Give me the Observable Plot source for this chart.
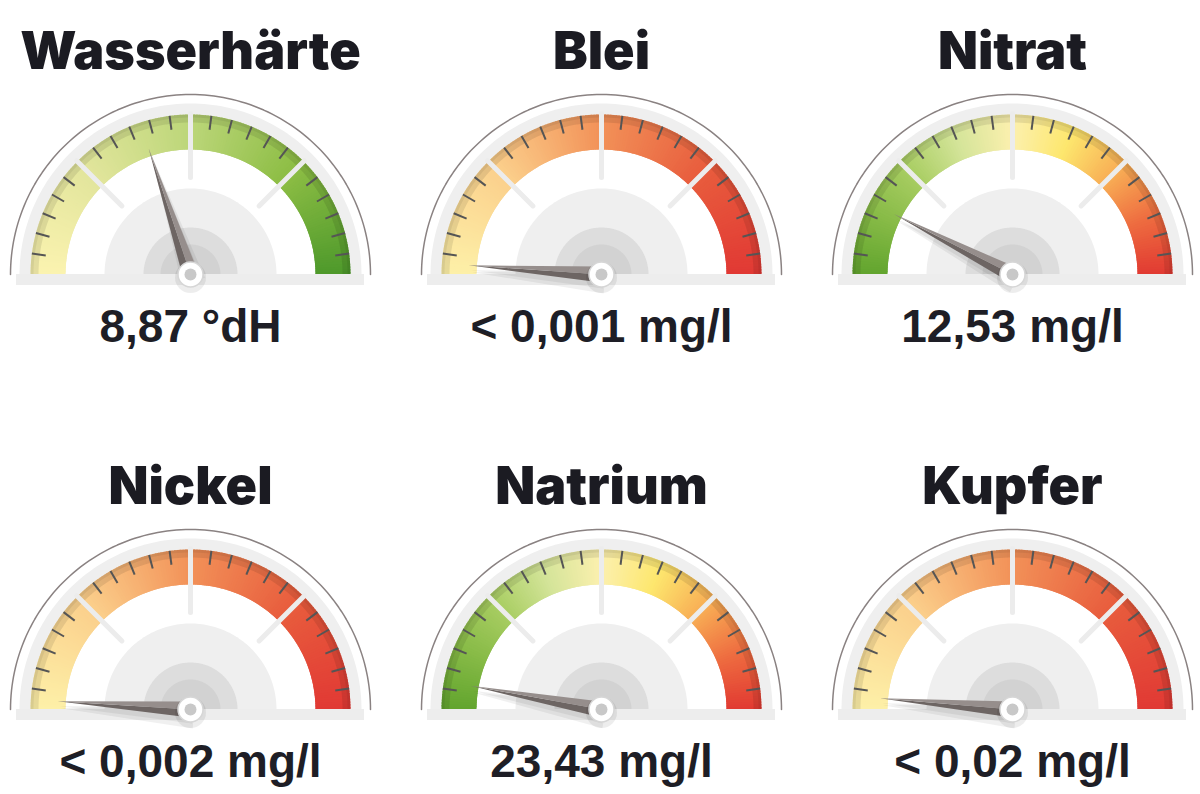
<!DOCTYPE html>
<html><head><meta charset="utf-8">
<script src="https://cdn.jsdelivr.net/npm/d3@7"></script>
<script src="https://cdn.jsdelivr.net/npm/@observablehq/plot@0.6"></script>
<style>
body{margin:0;background:#fff;}
#chart{width:1200px;height:794px;}
g[aria-label="title"] text{letter-spacing:-1px;}
</style>
</head><body><div id="chart"></div>
<script>
// ---- data ----
const titles = ["Wasserhärte", "Blei", "Nitrat", "Nickel", "Natrium", "Kupfer"];
const valueLabels = ["8,87 °dH", "< 0,001 mg/l", "12,53 mg/l", "< 0,002 mg/l", "23,43 mg/l", "< 0,02 mg/l"];
// needle position as share of the dial (0 = left end, 1 = right end)
const needleShares = [0.398, 0.022, 0.15, 0.02, 0.057, 0.027];
const gaugeSchemes = ["hardness", "metal", "nutrient", "metal", "nutrient", "metal"];
const hardnessColors = ["#fbf3b0", "#e2e59c", "#bcd679", "#8cbd44", "#4e992b"];
const metalColors = ["#fdf0a8", "#fbd08c", "#f29158", "#e85c3d", "#e13934"];
const nutrientColors = ["#62a52e", "#86ba46", "#a8cd62", "#d4e499", "#fcf0ae", "#fde76e", "#f8ae55", "#ee6c40", "#e13a32"];
const segments = 4, ticksPerSegment = 5;

// ---- layout ----
const W = 1200, H = 794;
const colX = [190, 601, 1012], rowY = [274, 709];
const R = {arc: 180, bg: 171, bandOut: 160, bandIn: 125, tickIn: 146, sepIn: 97,
  plate: 86, mid: 47, core: 30, hub: 12.5, hubDot: 6, needle: 133, needleHalf: 8};
const schemeColors = {hardness: hardnessColors, metal: metalColors, nutrient: nutrientColors};

const gauges = titles.map((t, i) => {
  const cols = schemeColors[gaugeSchemes[i]];
  const color = d3.scaleLinear().domain(cols.map((_, k) => k / (cols.length - 1))).range(cols).interpolate(d3.interpolateRgb);
  return {i, title: t, label: valueLabels[i], share: needleShares[i], cx: colX[i % 3], cy: rowY[Math.floor(i / 3)], color};
});
const pt = (g, s, r) => { const a = Math.PI * (1 - s); return [g.cx + r * Math.cos(a), g.cy - r * Math.sin(a)]; };

function semis(r) {
  const out = [];
  for (const g of gauges) for (let k = 0; k <= 120; k++) { const [x, y] = pt(g, k / 120, r); out.push({z: g.i, x, y}); }
  return out;
}
// band pieces
const band = [];
const N = 180, rMid = (R.bandOut + R.bandIn) / 2;
for (const g of gauges) for (let k = 0; k < N; k++) {
  const s1 = k / N, s2 = Math.min(1, (k + 1.7) / N);
  const [x1, y1] = pt(g, s1, rMid), [x2, y2] = pt(g, s2, rMid);
  band.push({x1, y1, x2, y2, c: g.color((k + 0.5) / N)});
}
const seps = [], ticks = [];
for (const g of gauges) {
  for (let s = 1; s < segments; s++) {
    const [x1, y1] = pt(g, s / segments, R.bandOut + 1), [x2, y2] = pt(g, s / segments, R.sepIn);
    seps.push({x1, y1, x2, y2});
  }
  const n = segments * (ticksPerSegment + 1);
  for (let k = 1; k < n; k++) {
    if (k % (ticksPerSegment + 1) === 0) continue;
    const [x1, y1] = pt(g, k / n, R.bandOut), [x2, y2] = pt(g, k / n, R.tickIn);
    ticks.push({x1, y1, x2, y2});
  }
}
const needleDark = [], needleLight = [], needleShadow = [];
for (const g of gauges) {
  const [tx, ty] = pt(g, g.share, R.needle);
  const L = Math.hypot(tx - g.cx, ty - g.cy), dx = (tx - g.cx) / L, dy = (ty - g.cy) / L;
  const nx = dy, ny = -dx; // dark side
  needleDark.push({z: g.i, x: g.cx, y: g.cy}, {z: g.i, x: tx, y: ty}, {z: g.i, x: g.cx + nx * R.needleHalf, y: g.cy + ny * R.needleHalf});
  needleLight.push({z: g.i, x: g.cx, y: g.cy}, {z: g.i, x: tx, y: ty}, {z: g.i, x: g.cx - nx * R.needleHalf, y: g.cy - ny * R.needleHalf});
  for (const [ox, oy, w] of [[3, 7, 12], [2, 5, 9]]) {
    needleShadow.push({z: g.i + "-" + w, x: g.cx - nx * w + ox, y: g.cy - ny * w + oy}, {z: g.i + "-" + w, x: tx + ox, y: ty + oy}, {z: g.i + "-" + w, x: g.cx + nx * w + ox, y: g.cy + ny * w + oy});
  }
}

const lineLink = (data, stroke, strokeWidth, extra = {}) => Plot.link(data, {x1: "x1", y1: "y1", x2: "x2", y2: "y2", stroke, strokeWidth, ...extra});
const fillPoly = (data, fill, extra = {}) => Plot.line(data, {x: "x", y: "y", z: "z", fill, stroke: "none", ...extra});

const chart = Plot.plot({
  width: W, height: H, margin: 0,
  x: {domain: [0, W], range: [0, W], axis: null},
  y: {domain: [0, H], range: [0, H], axis: null},
  marks: [
    Plot.line(semis(R.arc), {x: "x", y: "y", z: "z", stroke: "#8a8282", strokeWidth: 1.5}),
    fillPoly(semis(R.bg), "#efefef"),
    fillPoly(semis(R.bandIn), "#ffffff"),
    lineLink(band, "c", R.bandOut - R.bandIn, {strokeLinecap: "butt"}),
    Plot.line(semis(R.bandOut - 4), {x: "x", y: "y", z: "z", stroke: "#000", strokeOpacity: 0.09, strokeWidth: 8, strokeLinecap: "butt"}),
    Plot.line(semis(R.bandOut - 1.5), {x: "x", y: "y", z: "z", stroke: "#000", strokeOpacity: 0.06, strokeWidth: 3, strokeLinecap: "butt"}),
    lineLink(seps, "#ececec", 5, {strokeLinecap: "round"}),
    lineLink(ticks, "#555555", 2, {strokeLinecap: "butt"}),
    fillPoly(semis(R.plate), "#efefef"),
    fillPoly(semis(R.mid), "#dddddd"),
    fillPoly(semis(R.core), "#d2d2d2"),
    Plot.rect(gauges, {x1: d => d.cx - 174, x2: d => d.cx + 174, y1: d => d.cy, y2: d => d.cy + 11, fill: "#ededed"}),
    fillPoly(needleShadow, "#000", {fillOpacity: 0.06}),
    fillPoly(needleDark, "#6d6563"),
    fillPoly(needleLight, "#968e8c"),
    Plot.dot(gauges, {x: "cx", y: "cy", r: R.hub + 3, fill: "#000", fillOpacity: 0.07, dy: 3}),
    Plot.dot(gauges, {x: "cx", y: "cy", r: R.hub, fill: "#ffffff", stroke: "#d6d6d6", strokeWidth: 1.5}),
    Plot.dot(gauges, {x: "cx", y: "cy", r: R.hubDot, fill: "#c8c8c8"}),
    Plot.text(gauges, {x: "cx", y: d => d.cy - 206, text: "title", ariaLabel: "title",
      fontFamily: "Inter, Roboto, 'Liberation Sans', sans-serif", fontWeight: 900, fontSize: 52,
      fill: "#1b1b22", textAnchor: "middle", lineAnchor: "bottom"}),
    Plot.text(gauges, {x: "cx", y: d => d.cy + 67, text: "label", ariaLabel: "label",
      fontFamily: "'Liberation Sans', Arial, sans-serif", fontWeight: 700, fontSize: 46,
      fill: "#1e1e26", textAnchor: "middle", lineAnchor: "bottom"})
  ]
});
document.getElementById("chart").append(chart);
</script>
</body></html>
